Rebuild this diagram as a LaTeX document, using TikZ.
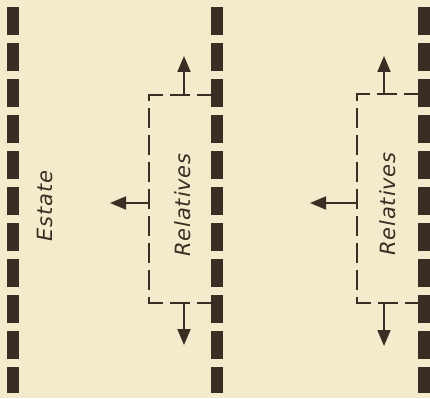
\documentclass[tikz,border=0pt]{standalone}
\usepackage{fontspec}
\newfontfamily\labelfont[LetterSpace=4]{DejaVu Sans}
\usepackage{xcolor}
\usetikzlibrary{arrows.meta}
\definecolor{paper}{HTML}{F3EBCB}
\definecolor{ink}{HTML}{3A2E24}
\tikzset{
	wall/.style={ink,line width=12pt,dash pattern=on 28pt off 8pt},
	boxline/.style={ink,line width=1.8pt,dash pattern=on 20pt off 7pt},
	flow/.style={ink,line width=1.8pt,-{Triangle[length=16pt,width=13pt]}},
	txt/.style={ink,rotate=90,font=\labelfont\itshape\fontsize{21}{25}\selectfont}
}

\begin{document}
\begin{tikzpicture}[x=1pt,y=-1pt]
	\fill[paper] (0,0) rectangle (430,398);
	\useasboundingbox (0,0) rectangle (430,398);
	% walls
	\coordinate (w1t) at (13,7);   \coordinate (w1b) at (13,393);
	\coordinate (w2t) at (217,7);  \coordinate (w2b) at (217,393);
	\coordinate (w3t) at (424,7);  \coordinate (w3b) at (424,393);
	\draw[wall] (w1t) -- (w1b);
	\draw[wall] (w2t) -- (w2b);
	\draw[wall] (w3t) -- (w3b);
	% labels
	\node[txt] (estate) at (45,206) {Estate};
	\node[txt] (rel1) at (183,205) {Relatives};
	\node[txt] (rel2) at (388,204) {Relatives};
	% first box
	\coordinate (b1tr) at (217,95);  \coordinate (b1tl) at (149,95);
	\coordinate (b1bl) at (149,303); \coordinate (b1br) at (217,303);
	\draw[boxline] (b1tr) -- (b1tl) -- (b1bl) -- (b1br);
	\coordinate (b1t) at (184,95);  \coordinate (b1up) at (184,56);
	\coordinate (b1b) at (184,303); \coordinate (b1dn) at (184,345);
	\coordinate (b1l) at (149,203); \coordinate (b1lf) at (110,203);
	\draw[flow] (b1t) -- (b1up);
	\draw[flow] (b1b) -- (b1dn);
	\draw[flow] (b1l) -- (b1lf);
	% second box
	\coordinate (b2tr) at (424,94);  \coordinate (b2tl) at (357,94);
	\coordinate (b2bl) at (357,303); \coordinate (b2br) at (424,303);
	\draw[boxline] (b2tr) -- (b2tl) -- (b2bl) -- (b2br);
	\coordinate (b2t) at (384,94);  \coordinate (b2up) at (384,56);
	\coordinate (b2b) at (384,303); \coordinate (b2dn) at (384,346);
	\coordinate (b2l) at (357,203); \coordinate (b2lf) at (310,203);
	\draw[flow] (b2t) -- (b2up);
	\draw[flow] (b2b) -- (b2dn);
	\draw[flow] (b2l) -- (b2lf);
\end{tikzpicture}
\end{document}
